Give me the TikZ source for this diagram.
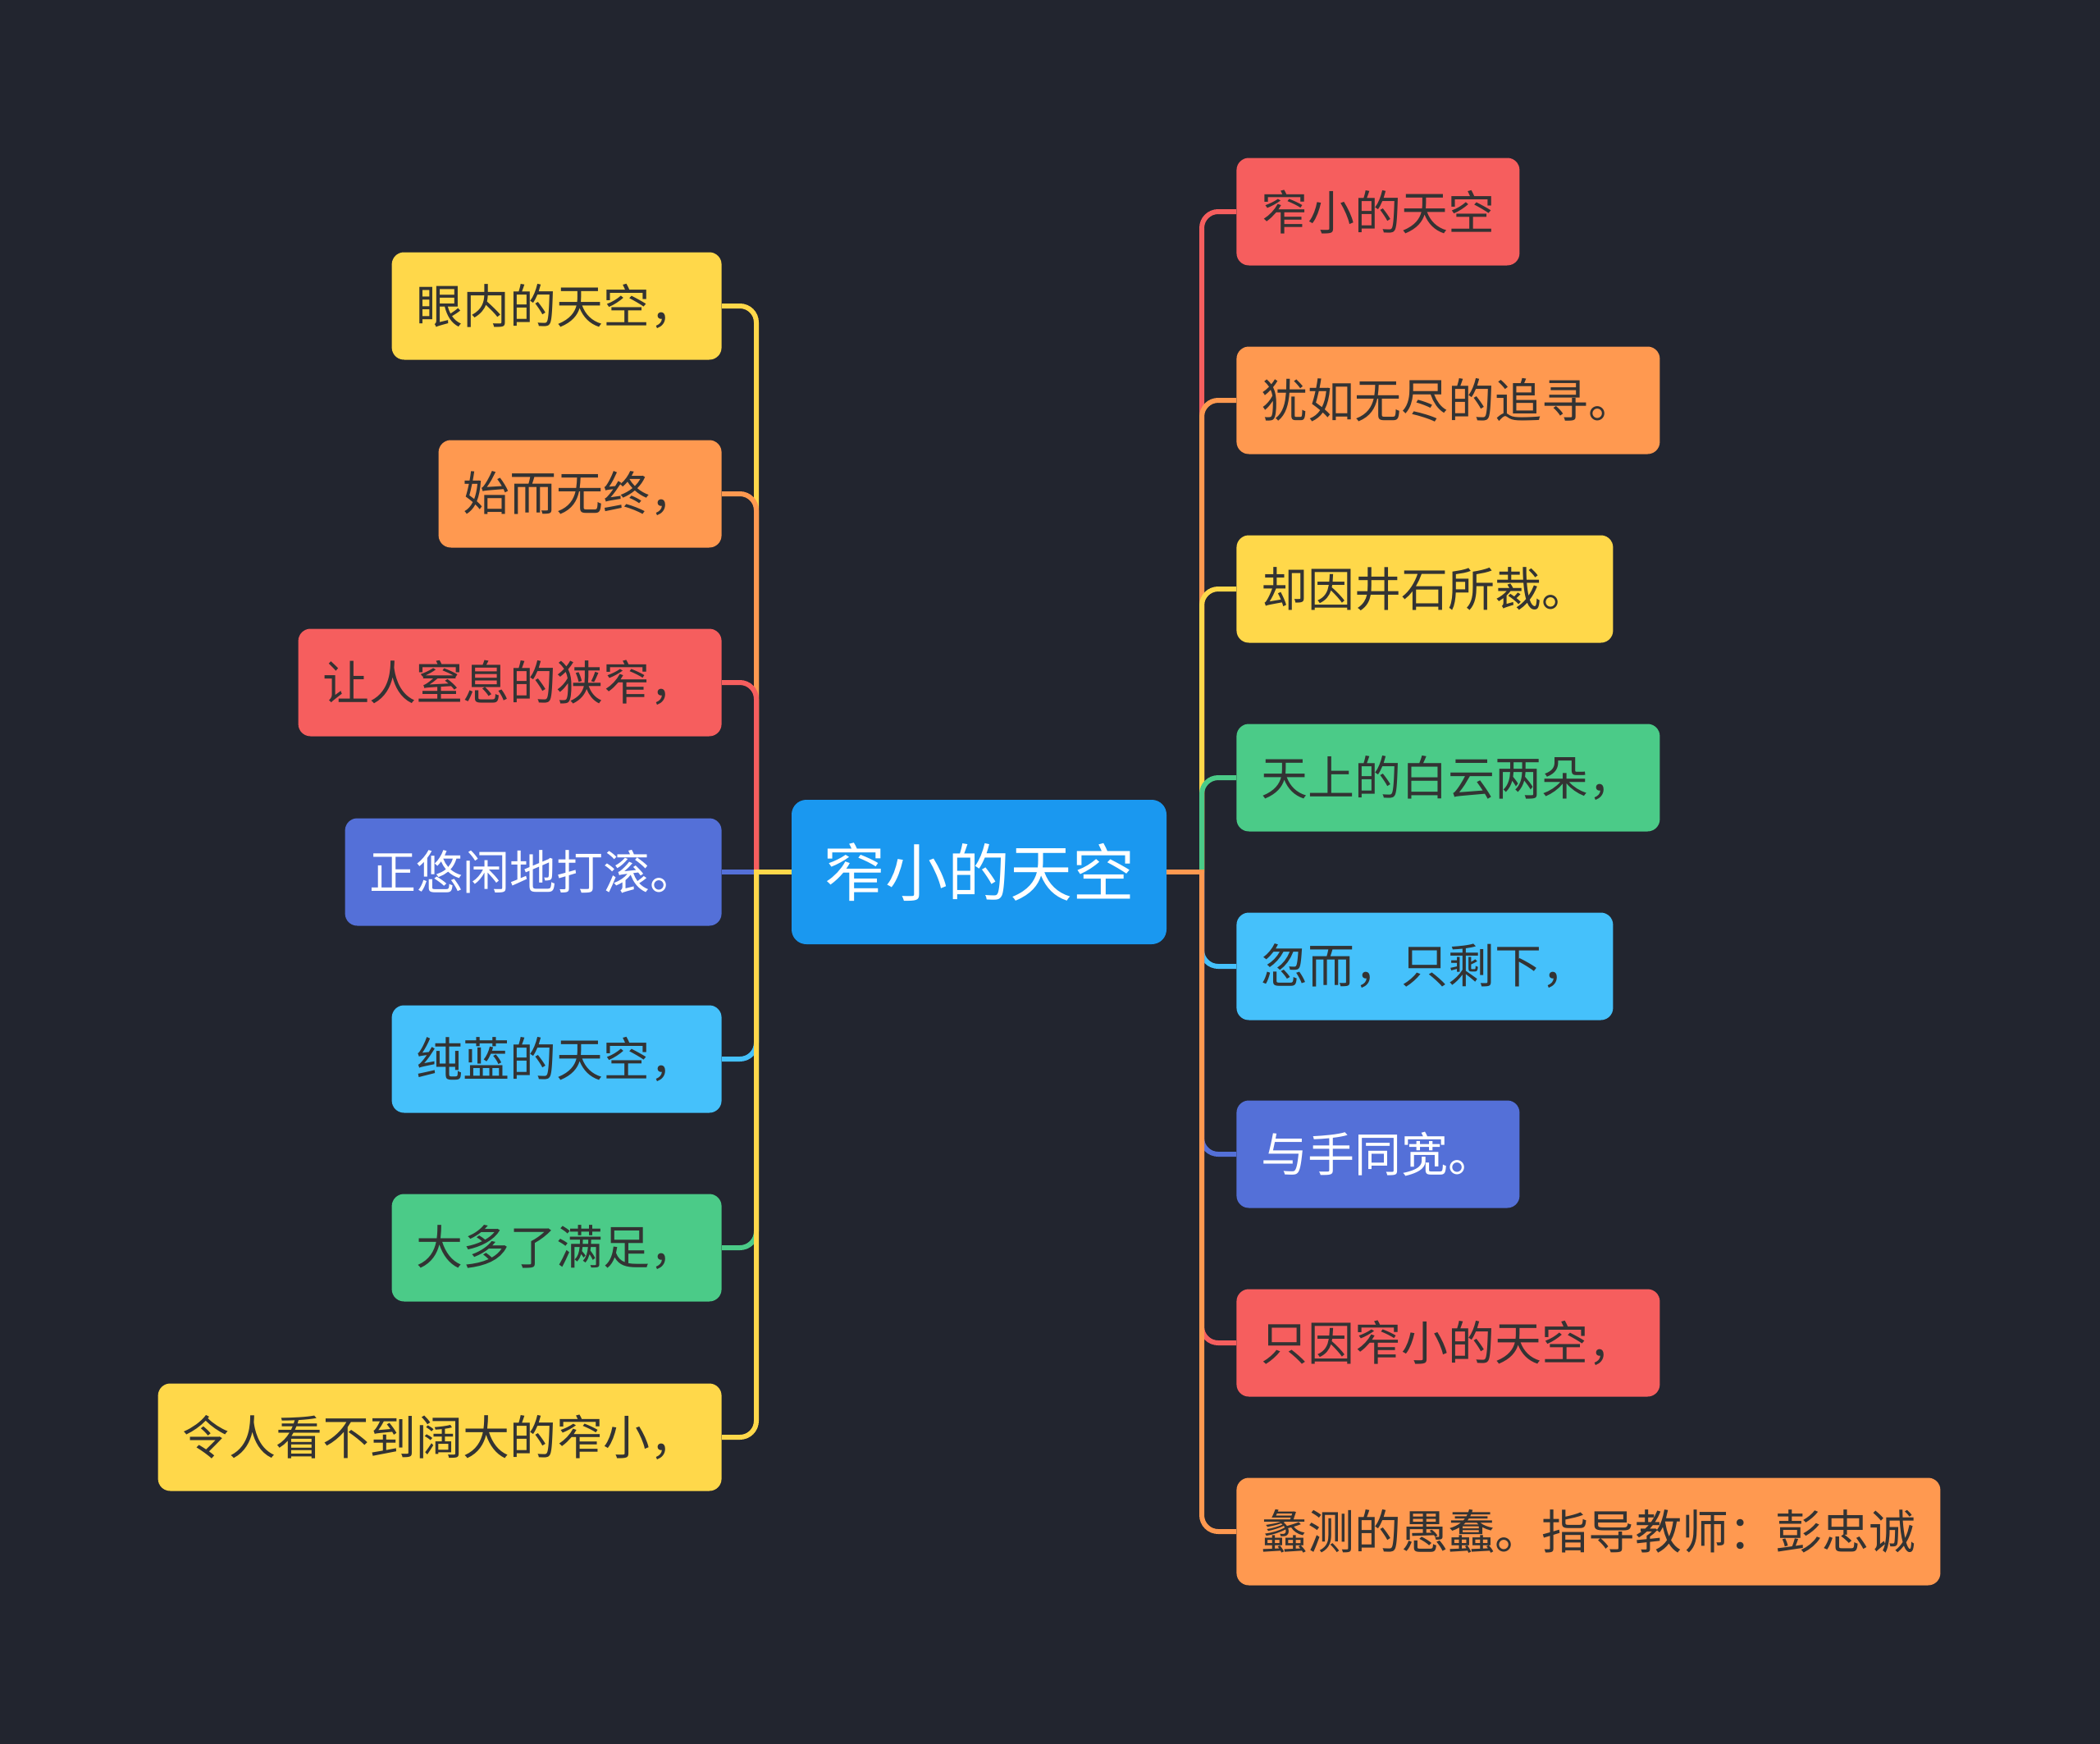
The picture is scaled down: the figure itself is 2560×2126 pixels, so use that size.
\documentclass[tikz,border=0pt]{standalone}
\usepackage{fontspec}
\setmainfont{Noto Sans CJK SC}
\definecolor{bg}{HTML}{22252F}
\definecolor{cred}{HTML}{F65E5E}
\definecolor{corange}{HTML}{FF9950}
\definecolor{cyellow}{HTML}{FFD84A}
\definecolor{cgreen}{HTML}{4BCB88}
\definecolor{clblue}{HTML}{45C1FB}
\definecolor{cindigo}{HTML}{5470D8}
\definecolor{ccenter}{HTML}{1A98F0}
\definecolor{txt}{HTML}{333333}
\begin{document}
\begin{tikzpicture}[x=0.5pt,y=-0.5pt,
  box/.style={rounded corners=7.5pt, inner xsep=15pt, inner ysep=0pt,
    minimum height=65.5pt, font=\fontsize{28.5}{30}\selectfont, text=txt},
  lbox/.style={box, anchor=east},
  rbox/.style={box, anchor=west},
  link/.style={line width=3pt, rounded corners=10pt}]
\fill[bg] (0,0) rectangle (2560,2126);
\useasboundingbox (0,0) rectangle (2560,2126);

\node[fill=ccenter, rounded corners=9pt, minimum width=228.5pt, minimum height=88pt,
  inner sep=0pt, text=white, font=\fontsize{38}{40}\selectfont] (c) at (1193.5,1063) {窄小的天空};

\coordinate (jl) at (922,1063);
\coordinate (jr) at (1465,1063);

% left children
\node[lbox, fill=cyellow] (l1) at (880,373) {眼内的天空，};
\node[lbox, fill=corange] (l2) at (880,602) {始而无终，};
\node[lbox, fill=cred] (l3) at (880,832) {让人窒息的狭窄，};
\node[lbox, fill=cindigo, text=white] (l4) at (880,1063) {正悠闲地打滚。};
\node[lbox, fill=clblue] (l5) at (880,1291) {纯蓝的天空，};
\node[lbox, fill=cgreen] (l6) at (880,1521) {大多了满足，};
\node[lbox, fill=cyellow] (l7) at (880,1752) {令人看不到阔大的窄小，};

% right children
\node[rbox, fill=cred] (r1) at (1507,258) {窄小的天空};
\node[rbox, fill=corange] (r2) at (1507,488) {犹如无尽的追寻。};
\node[rbox, fill=cyellow] (r3) at (1507,718) {却因井石所裁。};
\node[rbox, fill=cgreen] (r4) at (1507,948) {天上的白云两朵，};
\node[rbox, fill=clblue] (r5) at (1507,1178) {忽而，只剩下，};
\node[rbox, fill=cindigo, text=white] (r6) at (1507,1407) {与手同宽。};
\node[rbox, fill=cred] (r7) at (1507,1637) {只因窄小的天空，};
\node[rbox, fill=corange] (r8) at (1507,1867) {蠡测的愚蠢。指导教师：彭忠诚};

% left connectors
\draw[link, cyellow] (jl) |- (l1.east);
\draw[link, corange] (jl) |- (l2.east);
\draw[link, cred] (jl) |- (l3.east);
\draw[link, cindigo] (jl) -- (l4.east);
\draw[link, clblue] (jl) |- (l5.east);
\draw[link, cgreen] (jl) |- (l6.east);
\draw[link, cyellow] (jl) |- (l7.east);
\draw[line width=3pt, cyellow] (c.west) -- ([xshift=-1.5pt]jl);

% right connectors
\draw[link, cred] (jr) |- (r1.west);
\draw[link, corange] (jr) |- (r2.west);
\draw[link, cyellow] (jr) |- (r3.west);
\draw[link, cgreen] (jr) |- (r4.west);
\draw[link, clblue] (jr) |- (r5.west);
\draw[link, cindigo] (jr) |- (r6.west);
\draw[link, cred] (jr) |- (r7.west);
\draw[link, corange] (jr) |- (r8.west);
\draw[line width=3pt, corange] (c.east) -- ([xshift=1.5pt]jr);
\end{tikzpicture}
\end{document}
